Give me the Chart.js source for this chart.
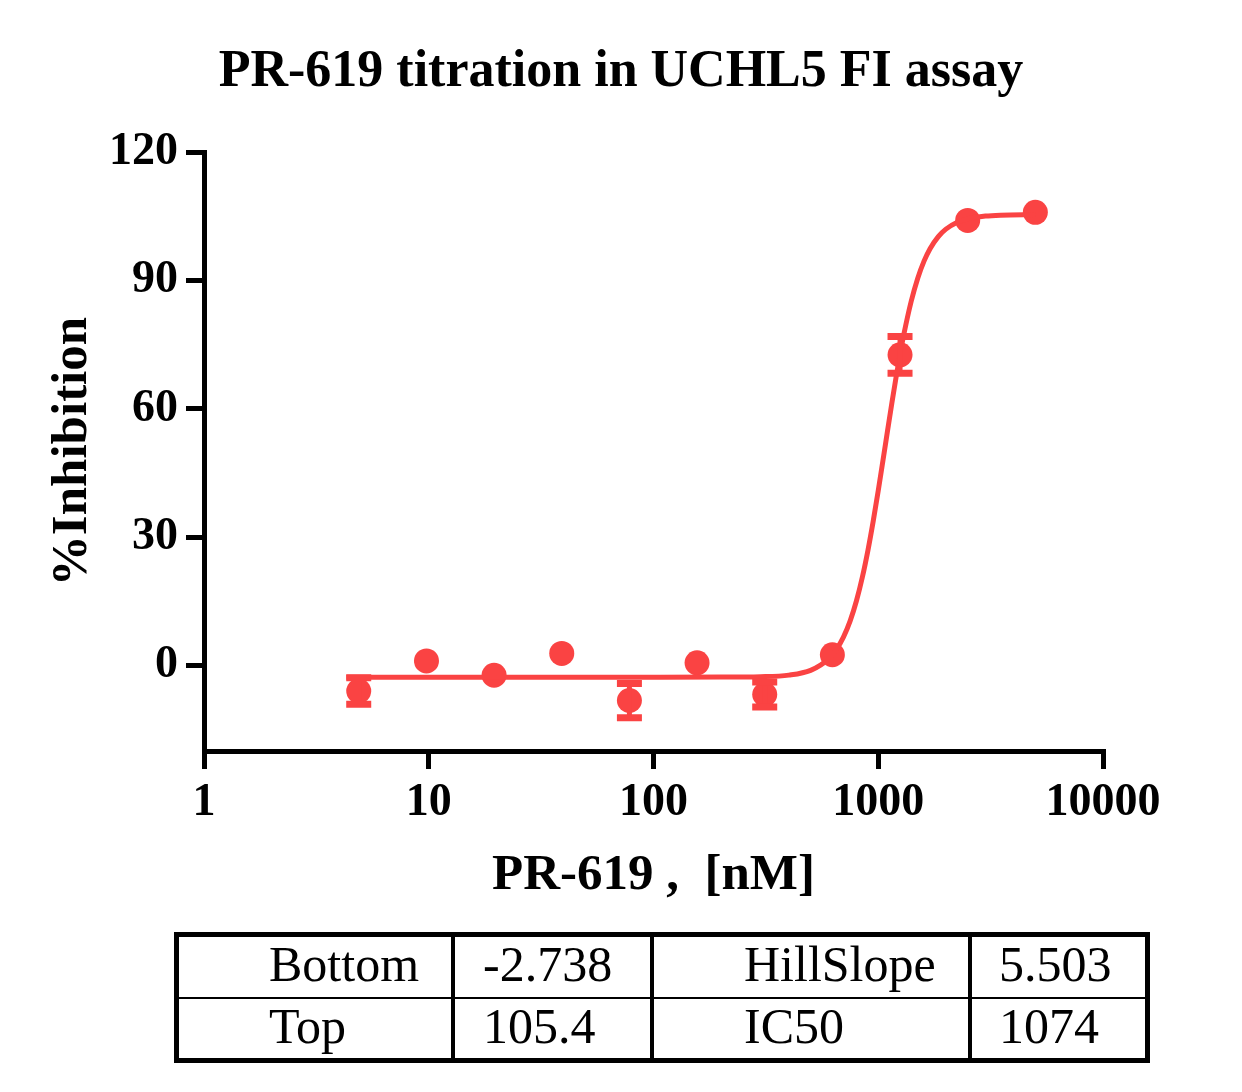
<!DOCTYPE html>
<html>
<head>
<meta charset="utf-8">
<title>PR-619 titration in UCHL5 FI assay</title>
<script src="https://cdn.jsdelivr.net/npm/chart.js@4.4.1/dist/chart.umd.min.js"></script>
<style>
  body { margin: 0; background: #fff; }
  #wrap { position: relative; width: 1242px; height: 1092px; }
  #chart { position: absolute; left: 0; top: 0; }
  #params {
    position: absolute; left: 174px; top: 932px; width: 976px;
    border: 5px solid #000; border-collapse: separate; border-spacing: 0;
    table-layout: fixed; box-sizing: border-box;
    font-family: "Liberation Serif", "Times New Roman", serif; font-size: 50px; color: #000;
  }
  #params td { box-sizing: border-box; padding: 0 0 6px 0; line-height: 1; white-space: nowrap; }
  #params tr:first-child td { height: 62px; border-bottom: 2px solid #000; }
  #params tr:last-child td { height: 59px; }
  #params td.c1, #params td.c2, #params td.c3 { border-right: 4px solid #000; }
  #params td.c1 { padding-left: 90px; }
  #params td.c2 { padding-left: 28px; }
  #params td.c3 { padding-left: 90px; }
  #params td.c4 { padding-left: 27px; }
</style>
</head>
<body>
<div id="wrap">
  <canvas id="chart" width="1242" height="920"></canvas>
  <table id="params">
    <colgroup><col style="width:276px"><col style="width:199px"><col style="width:318px"><col style="width:173px"></colgroup>
    <tr><td class="c1">Bottom</td><td class="c2">-2.738</td><td class="c3">HillSlope</td><td class="c4">5.503</td></tr>
    <tr><td class="c1">Top</td><td class="c2">105.4</td><td class="c3">IC50</td><td class="c4">1074</td></tr>
  </table>
</div>
<script>
// Datos (nM, % inhibición, error)
const concentrations = [4.88, 9.77, 19.53, 39.06, 78.13, 156.25, 312.5, 625, 1250, 2500, 5000];
const inhibition = [-6.0, 1.05, -2.3, 2.8, -8.2, 0.6, -6.8, 2.5, 72.6, 104.0, 105.9];
const errors = [3.1, 0, 0, 0, 4.0, 0, 2.9, 0, 4.3, 0, 0];

// curva ajustada
const fitX = [4.3, 50, 200, 300, 400, 500, 600, 650, 700, 750, 800, 850, 900, 950, 1000, 1050, 1100,
  1150, 1200, 1250, 1300, 1400, 1500, 1600, 1700, 1850, 2000, 2250, 2500, 3000, 3500, 5000];
const fitY = [-2.74, -2.74, -2.73, -2.64, -2.27, -1.15, 1.48, 3.68, 6.63, 10.43, 15.12, 20.66, 26.94, 33.75, 40.84, 47.97, 54.88,
  61.39, 67.34, 72.69, 77.39, 85.0, 90.56, 94.55, 97.40, 100.24, 101.98, 103.58, 104.38, 105.02, 105.24, 105.38];

const xTicks = [1, 10, 100, 1000, 10000];
const yTicks = [0, 30, 60, 90, 120];

const RED = "#fa4343";
const SERIF = "'Liberation Serif', 'Times New Roman', serif";

const errorBars = {
  id: "errorBars",
  afterDatasetsDraw(chart) {
    const { ctx, scales: { x, y } } = chart;
    ctx.save();
    ctx.strokeStyle = RED;
    concentrations.forEach((c, i) => {
      const err = errors[i];
      if (!err) return;
      const px = x.getPixelForValue(c);
      const top = y.getPixelForValue(inhibition[i] + err);
      const bot = y.getPixelForValue(inhibition[i] - err);
      ctx.lineWidth = 5;
      ctx.beginPath();
      ctx.moveTo(px, top);
      ctx.lineTo(px, bot);
      ctx.stroke();
      ctx.lineWidth = 7;
      ctx.beginPath();
      ctx.moveTo(px - 12.5, top); ctx.lineTo(px + 12.5, top);
      ctx.moveTo(px - 12.5, bot); ctx.lineTo(px + 12.5, bot);
      ctx.stroke();
    });
    ctx.restore();
  }
};

const axisGrid = { drawOnChartArea: false, drawTicks: true, tickLength: 18, lineWidth: 5, color: "#000" };
const tickFont = { family: SERIF, size: 46, weight: "bold" };
const axisTitleFont = { family: SERIF, size: 51, weight: "bold" };

new Chart(document.getElementById("chart"), {
  type: "scatter",
  data: {
    datasets: [
      {
        label: "Ajuste",
        data: fitX.map((v, i) => ({ x: v, y: fitY[i] })),
        showLine: true,
        borderColor: RED,
        borderWidth: 5,
        pointRadius: 0,
        cubicInterpolationMode: "monotone"
      },
      {
        label: "PR-619",
        data: concentrations.map((v, i) => ({ x: v, y: inhibition[i] })),
        backgroundColor: RED,
        borderWidth: 0,
        pointRadius: 12.5,
        pointHoverRadius: 12.5
      }
    ]
  },
  options: {
    responsive: false,
    animation: false,
    devicePixelRatio: 1,
    layout: { padding: 0 },
    plugins: {
      legend: { display: false },
      tooltip: { enabled: false },
      title: {
        display: true,
        text: "PR-619 titration in UCHL5 FI assay",
        color: "#000",
        font: { family: SERIF, size: 52, weight: "bold" },
        padding: { top: 41, bottom: 48.6 }
      }
    },
    scales: {
      x: {
        type: "logarithmic",
        min: 1,
        max: 10000,
        grid: axisGrid,
        border: { display: true, width: 5, color: "#000" },
        ticks: { color: "#000", font: tickFont, padding: 7, autoSkip: false, maxRotation: 0,
          callback: v => String(v) },
        afterBuildTicks: s => { s.ticks = xTicks.map(v => ({ value: v })); },
        afterFit: s => { s.height = 169; },
        title: { display: true, text: "PR-619 ,  [nM]", color: "#000", font: axisTitleFont,
          padding: { top: 0, bottom: 13.4 } }
      },
      y: {
        min: -20,
        max: 120,
        grid: axisGrid,
        border: { display: true, width: 5, color: "#000" },
        ticks: { color: "#000", font: tickFont, padding: 8, stepSize: 10 },
        afterBuildTicks: s => { s.ticks = yTicks.map(v => ({ value: v })); },
        afterFit: s => { s.width = 204; },
        title: { display: true, text: "%Inhibition", color: "#000", font: axisTitleFont,
          padding: { top: 42.4, bottom: 0 } }
      },
      // espacio vacío a la derecha
      derecha: {
        position: "right",
        min: 0,
        max: 1,
        grid: { display: false },
        border: { display: false },
        ticks: { display: false },
        afterFit: s => { s.width = 139; }
      }
    }
  },
  plugins: [errorBars]
});
</script>
</body>
</html>
